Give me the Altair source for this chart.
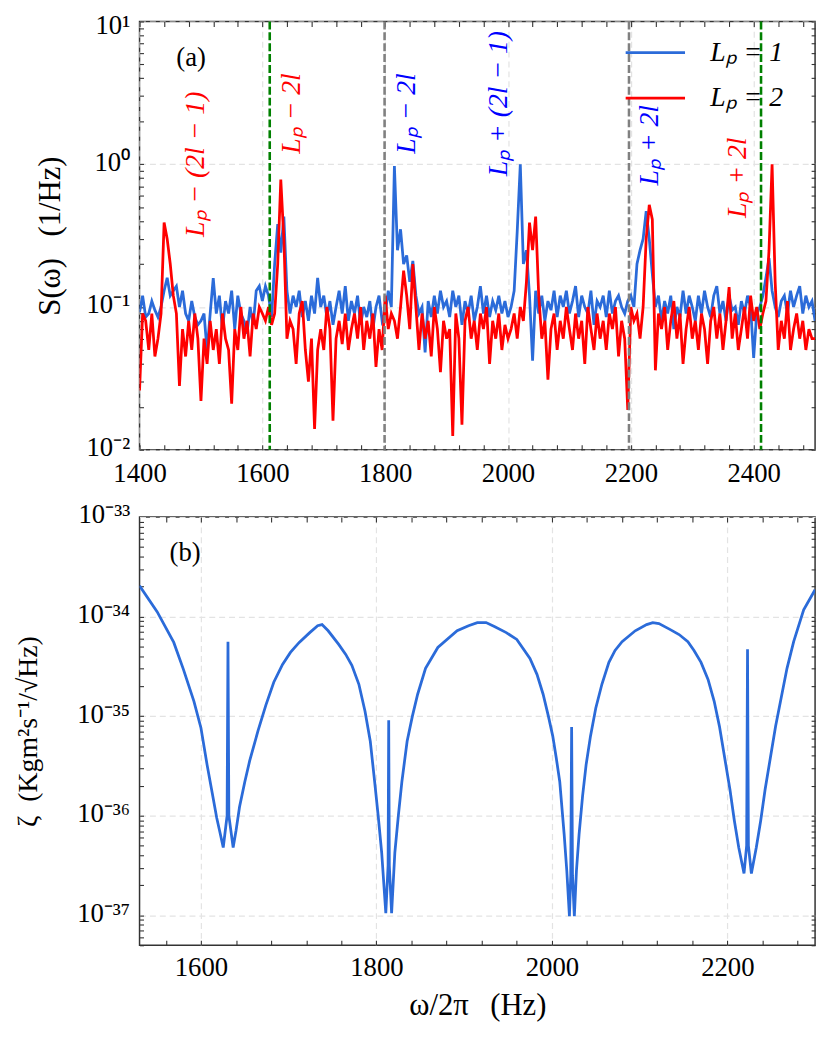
import altair as alt
import pandas as pd

FONT = "Liberation Serif"
BLUE = "#2b6bd9"
RED = "#ff0000"

# ---------------- panel (a) data ----------------
FREQ_A = list(range(1400, 2501, 5))
S_LP1 = [
    0.092, 0.12, 0.085, 0.09, 0.11, 0.095, 0.085, 0.10, 0.13, 0.16,
    0.12, 0.13, 0.14, 0.10, 0.13, 0.09, 0.08, 0.11, 0.085, 0.075,
    0.08, 0.09, 0.049, 0.09, 0.159, 0.09, 0.12, 0.07, 0.11, 0.09,
    0.13, 0.07, 0.12, 0.09, 0.08, 0.065, 0.10, 0.075, 0.13, 0.14,
    0.11, 0.14, 0.12, 0.085, 0.2, 0.38, 0.24, 0.43, 0.13, 0.09,
    0.12, 0.10, 0.13, 0.085, 0.11, 0.08, 0.12, 0.09, 0.16, 0.10,
    0.12, 0.085, 0.11, 0.075, 0.10, 0.13, 0.09, 0.14, 0.08, 0.11,
    0.09, 0.12, 0.075, 0.10, 0.085, 0.11, 0.07, 0.10, 0.12, 0.08,
    0.09, 0.13, 0.10, 0.97, 0.25, 0.35, 0.2, 0.23, 0.15, 0.21,
    0.12, 0.09, 0.10, 0.048, 0.11, 0.085, 0.12, 0.09, 0.13, 0.10,
    0.11, 0.085, 0.13, 0.10, 0.12, 0.075, 0.11, 0.09, 0.12, 0.08,
    0.10, 0.14, 0.09, 0.12, 0.085, 0.11, 0.095, 0.12, 0.09, 0.11,
    0.085, 0.10, 0.13, 0.34, 1.0, 0.2, 0.25, 0.12, 0.042, 0.13,
    0.09, 0.12, 0.08, 0.11, 0.095, 0.13, 0.085, 0.12, 0.10, 0.13,
    0.09, 0.11, 0.14, 0.085, 0.12, 0.10, 0.09, 0.13, 0.075, 0.11,
    0.10, 0.12, 0.085, 0.13, 0.09, 0.11, 0.12, 0.10, 0.09, 0.11,
    0.12, 0.10, 0.2, 0.25, 0.30, 0.47, 0.3, 0.17, 0.10, 0.12,
    0.08, 0.11, 0.09, 0.12, 0.07, 0.10, 0.085, 0.13, 0.09, 0.12,
    0.10, 0.08, 0.12, 0.09, 0.13, 0.10, 0.085, 0.12, 0.14, 0.09,
    0.11, 0.08, 0.12, 0.095, 0.10, 0.075, 0.11, 0.09, 0.12, 0.10,
    0.044, 0.09, 0.10, 0.12, 0.16, 0.22, 0.13, 0.10, 0.085, 0.11,
    0.12, 0.09, 0.13, 0.10, 0.12, 0.14, 0.09, 0.12, 0.10, 0.11,
    0.08,
]
S_LP2 = [
    0.026, 0.09, 0.08, 0.05, 0.09, 0.045, 0.06, 0.09, 0.39, 0.30,
    0.20, 0.12, 0.09, 0.028, 0.07, 0.045, 0.08, 0.05, 0.09, 0.06,
    0.022, 0.06, 0.04, 0.08, 0.05, 0.07, 0.04, 0.09, 0.06, 0.05,
    0.021, 0.07, 0.05, 0.10, 0.06, 0.08, 0.045, 0.09, 0.07, 0.10,
    0.09, 0.08, 0.10, 0.075, 0.09, 0.2, 0.78, 0.3, 0.06, 0.08,
    0.07, 0.04, 0.09, 0.11, 0.05, 0.03, 0.06, 0.014, 0.05, 0.07,
    0.05, 0.10, 0.07, 0.016, 0.06, 0.08, 0.055, 0.09, 0.05, 0.07,
    0.09, 0.06, 0.10, 0.05, 0.08, 0.06, 0.09, 0.038, 0.07, 0.05,
    0.12, 0.07, 0.09, 0.08, 0.06, 0.10, 0.18, 0.12, 0.07, 0.20,
    0.10, 0.05, 0.09, 0.06, 0.08, 0.045, 0.10, 0.07, 0.035, 0.08,
    0.06, 0.07, 0.0125, 0.09, 0.06, 0.015, 0.08, 0.10, 0.06, 0.08,
    0.05, 0.09, 0.07, 0.10, 0.04, 0.08, 0.06, 0.09, 0.05, 0.075,
    0.06, 0.07, 0.09, 0.06, 0.10, 0.08, 0.15, 0.39, 0.25, 0.43,
    0.12, 0.06, 0.08, 0.031, 0.07, 0.09, 0.05, 0.08, 0.06, 0.10,
    0.07, 0.05, 0.09, 0.06, 0.08, 0.04, 0.10, 0.07, 0.05, 0.09,
    0.06, 0.08, 0.05, 0.09, 0.07, 0.10, 0.045, 0.08, 0.06, 0.019,
    0.10, 0.08, 0.09, 0.06, 0.10, 0.3, 0.52, 0.41, 0.036, 0.09,
    0.07, 0.10, 0.05, 0.08, 0.11, 0.06, 0.09, 0.04, 0.07, 0.10,
    0.06, 0.08, 0.05, 0.09, 0.07, 0.04, 0.08, 0.10, 0.06, 0.09,
    0.05, 0.08, 0.138, 0.06, 0.09, 0.05, 0.07, 0.10, 0.06, 0.12,
    0.08, 0.10, 0.07, 0.09, 0.11, 0.25, 1.0, 0.15, 0.05, 0.08,
    0.06, 0.11, 0.05, 0.07, 0.09, 0.06, 0.08, 0.05, 0.07, 0.06,
    0.06,
]
SERIES = ["Lₚ = 1", "Lₚ = 2"]

VLINE_FREQ = [1612, 1799, 2197, 2412]
VLINE_KIND = ["green", "gray", "gray", "green"]

ANNOT_TEXT = ["Lₚ − (2l − 1)", "Lₚ − 2l", "Lₚ − 2l", "Lₚ + (2l − 1)", "Lₚ + 2l", "Lₚ + 2l"]
ANNOT_FREQ = [1492, 1649, 1835, 1985, 2232, 2375]
ANNOT_S = [1.0, 2.27, 2.27, 2.66, 1.36, 0.805]
ANNOT_KIND = ["red", "red", "blue", "blue", "blue", "red"]

X_LABELS_A = [1400, 1600, 1800, 2000, 2200, 2400]
Y_EXP_A = [-2, -1, 0, 1]

# ---------------- panel (b) data ----------------
FREQ_B = [
    1530, 1550, 1569, 1580, 1592, 1600, 1607, 1613, 1618, 1622,
    1625.4, 1629.8, 1630.8, 1631.8, 1636.7, 1640, 1644, 1650, 1655.5, 1665,
    1674, 1683, 1693, 1702, 1712, 1724, 1733, 1738, 1745, 1757,
    1765, 1772, 1780, 1787, 1793, 1798, 1802, 1806, 1810.7, 1813.3,
    1814, 1814.7, 1817.3, 1821, 1825, 1829, 1835, 1841, 1847, 1856,
    1870, 1892, 1905, 1915, 1925, 1935, 1948, 1960, 1975, 1983,
    1990, 1996, 2001, 2005, 2009, 2014, 2017, 2020, 2021.5, 2022.5,
    2023.5, 2025.6, 2028, 2031, 2035, 2039, 2044, 2050, 2057, 2065,
    2072, 2080, 2095, 2108, 2115, 2122, 2135, 2145, 2155, 2162,
    2170, 2178, 2185, 2191, 2197, 2203, 2208, 2213, 2219, 2222,
    2223, 2224, 2227.4, 2233, 2238, 2243, 2249, 2255, 2260.6, 2268,
    2275.6, 2287, 2300,
]
ZETA = [
    2.04e-34, 1.12e-34, 5.5e-35, 2.95e-35, 1.41e-35, 7.6e-36, 3.24e-36, 1.66e-36, 9.5e-37, 6.6e-37,
    4.8e-37, 1.0e-36, 5.6e-35, 1.0e-36, 4.8e-37, 7.1e-37, 1.23e-36, 2.19e-36, 3.55e-36, 7.1e-36,
    1.29e-35, 2.19e-35, 3.31e-35, 4.37e-35, 5.5e-35, 6.9e-35, 8.1e-35, 8.3e-35, 7.2e-35, 5.25e-35,
    4.17e-35, 3.24e-35, 2.09e-35, 1.12e-35, 5.6e-36, 2.19e-36, 1.0e-36, 4.27e-37, 1.05e-37, 3.16e-37,
    9.1e-36, 3.16e-37, 1.05e-37, 4.27e-37, 1.0e-36, 2.19e-36, 5.6e-36, 1.0e-35, 1.66e-35, 3.02e-35,
    4.9e-35, 7.2e-35, 8.1e-35, 8.7e-35, 8.7e-35, 7.9e-35, 6.9e-35, 5.9e-35, 3.8e-35, 2.63e-35,
    1.66e-35, 1.0e-35, 6.3e-36, 3.8e-36, 2.19e-36, 6.5e-37, 2.8e-37, 9.8e-38, 2.5e-37, 7.8e-36,
    2.5e-37, 9.8e-38, 2.8e-37, 6.5e-37, 1.58e-36, 3.24e-36, 6.3e-36, 1.2e-35, 2.09e-35, 3.47e-35,
    4.57e-35, 5.6e-35, 7.2e-35, 8.3e-35, 8.7e-35, 8.5e-35, 7.4e-35, 6.6e-35, 5.6e-35, 4.57e-35,
    3.47e-35, 2.34e-35, 1.41e-35, 7.9e-36, 3.8e-36, 1.82e-36, 8.9e-37, 4.8e-37, 2.63e-37, 5.0e-37,
    4.7e-35, 5.0e-37, 2.63e-37, 4.8e-37, 8.9e-37, 1.82e-36, 3.8e-36, 7.9e-36, 1.41e-35, 3.02e-35,
    5.6e-35, 1.17e-34, 1.86e-34,
]
X_LABELS_B = [1600, 1800, 2000, 2200]
Y_EXP_B = [-37, -36, -35, -34, -33]

SUP = str.maketrans("0123456789-", "⁰¹²³⁴⁵⁶⁷⁸⁹⁻")
LBL = 27
TTL = 27


def pow_label(e):
    return "10" + str(e).translate(SUP)


def label_expr(exps):
    expr = f"'{pow_label(exps[-1])}'"
    for e in reversed(exps[:-1]):
        expr = f"datum.value < {10 ** (e + 0.5):.4g} ? '{pow_label(e)}' : " + expr
    return expr


def minor_values(lo_exp, hi_exp):
    vals = []
    for e in range(lo_exp, hi_exp + 1):
        for m in range(1, 10):
            vals.append(float(f"{m * 10.0 ** e:.6g}"))
    return vals


def tick_axis(orient, values, size=5):
    return alt.Axis(orient=orient, values=values, offset=-size, tickSize=size,
                    labels=False, domain=False, grid=False, title=None,
                    tickColor="#333333", tickWidth=1.1)


# ---------------- panel (a) ----------------
dfA = pd.DataFrame({
    "f": FREQ_A * 2,
    "s": S_LP1 + S_LP2,
    "series": [SERIES[0]] * len(FREQ_A) + [SERIES[1]] * len(FREQ_A),
})
dfV = pd.DataFrame({"f": VLINE_FREQ, "kind": VLINE_KIND})
dfT = pd.DataFrame({"f": ANNOT_FREQ, "s": ANNOT_S, "label": ANNOT_TEXT, "kind": ANNOT_KIND})
dfPa = pd.DataFrame({"f": [1484], "s": [5.5], "label": ["(a)"]})

xsA = alt.Scale(domain=[1400, 2500], nice=False, zero=False)
ysA = alt.Scale(type="log", domain=[0.01, 10], nice=False)
minorA_x = list(range(1400, 2501, 40))
minorA_y = [v for v in minor_values(-2, 1) if 0.01 <= v <= 10]

linesA = alt.Chart(dfA).mark_line(strokeWidth=2.8, clip=True).encode(
    x=alt.X("f:Q", scale=xsA, axis=alt.Axis(orient="bottom", values=X_LABELS_A, ticks=False,
                                            domain=False, grid=True, title=None, labelPadding=11,
                                            labelFlush=False, format="d",
                                            labelFontSize=LBL)),
    y=alt.Y("s:Q", scale=ysA, axis=alt.Axis(orient="left", values=[10.0 ** e for e in Y_EXP_A],
                                            labelExpr=label_expr(Y_EXP_A), ticks=False,
                                            domain=False, grid=True,
                                            title="S(ω)\u2002\u2009(1/Hz)",
                                            labelPadding=10, titlePadding=20, labelFlush=False,
                                            labelOffset={"condition": {"test": "datum.value > 5",
                                                                       "value": 4},
                                                         "value": -2},
                                            labelFontSize=LBL, titleFontSize=TTL + 4)),
    color=alt.Color("series:N", scale=alt.Scale(domain=SERIES, range=[BLUE, RED]),
                    legend=alt.Legend(orient="none", legendX=500, legendY=10, title=None,
                                      symbolType="M-1.5,0H1.5", symbolSize=1600,
                                      symbolStrokeWidth=2.8, labelOffset=34, rowPadding=10,
                                      labelFontSize=28, labelFontStyle="italic", padding=0)),
)

vrules = alt.Chart(dfV).mark_rule(strokeWidth=2.6, strokeDash=[8, 3]).encode(
    x=alt.X("f:Q", scale=xsA, axis=None),
    color=alt.Color("kind:N", scale=alt.Scale(domain=["green", "gray"], range=["#008000", "#808080"]),
                    legend=None),
)

annots = alt.Chart(dfT).mark_text(angle=270, font=FONT, fontSize=28, fontStyle="italic",
                                  align="center", baseline="middle").encode(
    x=alt.X("f:Q", scale=xsA, axis=tick_axis("top", minorA_x)),
    y=alt.Y("s:Q", scale=ysA, axis=tick_axis("right", minorA_y, 4)),
    text="label:N",
    color=alt.Color("kind:N", scale=alt.Scale(domain=["red", "blue"], range=["#ff0000", "#0000ff"]),
                    legend=None),
)

panelA_label = alt.Chart(dfPa).mark_text(font=FONT, fontSize=27, align="center",
                                         baseline="middle", color="black").encode(
    x=alt.X("f:Q", scale=xsA, axis=tick_axis("bottom", minorA_x)),
    y=alt.Y("s:Q", scale=ysA, axis=tick_axis("left", minorA_y, 4)),
    text="label:N",
)

chartA = alt.layer(linesA, vrules, annots, panelA_label).resolve_scale(
    color="independent").resolve_axis(x="independent", y="independent").properties(
    width=683, height=433)

# ---------------- panel (b) ----------------
dfB = pd.DataFrame({"f": FREQ_B, "z": ZETA})
dfPb = pd.DataFrame({"f": [1582], "z": [4.3e-34], "label": ["(b)"]})

xsB = alt.Scale(domain=[1530, 2300], nice=False, zero=False)
ysB = alt.Scale(type="log", domain=[5e-38, 1e-33], nice=False)
minorB_x = list(range(1560, 2301, 40))
minorB_y = [v for v in minor_values(-38, -34) if 5e-38 * 0.999 <= v <= 1e-33 * 1.001]

lineB = alt.Chart(dfB).mark_line(strokeWidth=2.8, clip=True, color=BLUE).encode(
    x=alt.X("f:Q", scale=xsB, axis=alt.Axis(orient="bottom", values=X_LABELS_B, ticks=False,
                                            domain=False, grid=True, title="ω/2π\u2002\u2009(Hz)",
                                            labelPadding=10, titlePadding=10, labelFlush=False,
                                            format="d", labelFontSize=LBL, titleFontSize=TTL + 4)),
    y=alt.Y("z:Q", scale=ysB, axis=alt.Axis(orient="left", values=[10.0 ** e for e in Y_EXP_B],
                                            labelExpr=label_expr(Y_EXP_B), ticks=False,
                                            domain=False, grid=True,
                                            title="ζ\u2002(Kgm²s⁻¹/√Hz)",
                                            labelPadding=10, titlePadding=35, labelFlush=False,
                                            labelOffset=-2, labelFontSize=LBL,
                                            titleFontSize=TTL + 1)),
)

ticksB_top = alt.Chart(dfPb).mark_text(font=FONT, fontSize=27, align="center",
                                       baseline="middle", color="black").encode(
    x=alt.X("f:Q", scale=xsB, axis=tick_axis("top", minorB_x)),
    y=alt.Y("z:Q", scale=ysB, axis=tick_axis("right", minorB_y, 4)),
    text="label:N",
)
ticksB_bottom = alt.Chart(dfPb).mark_point(opacity=0).encode(
    x=alt.X("f:Q", scale=xsB, axis=tick_axis("bottom", minorB_x)),
    y=alt.Y("z:Q", scale=ysB, axis=tick_axis("left", minorB_y, 4)),
)

chartB = alt.layer(lineB, ticksB_top, ticksB_bottom).resolve_axis(
    x="independent", y="independent").properties(width=683, height=433)

chart = alt.vconcat(chartA, chartB, spacing=13).properties(
    padding={"left": 5, "top": -3, "right": 5, "bottom": 0}
).configure_view(
    stroke="#333333", strokeWidth=1.5
).configure_axis(
    labelFont=FONT, titleFont=FONT, labelFontSize=LBL, titleFontSize=TTL,
    titleFontWeight="normal", labelColor="black", titleColor="black",
    gridColor="#e3e3e3", gridDash=[6, 4], gridWidth=1.2,
).configure_legend(
    labelFont=FONT, labelColor="black"
)

chart.save("out.html", embed_options={"renderer": "svg", "actions": False})
